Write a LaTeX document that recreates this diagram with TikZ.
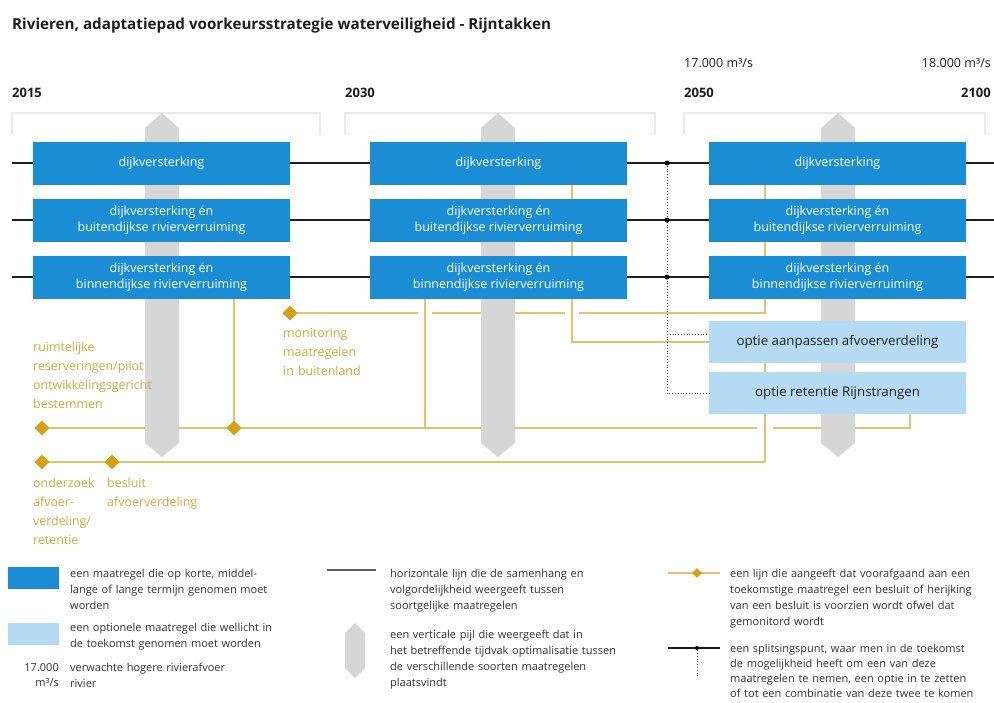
\documentclass[tikz,border=0pt]{standalone}
\usepackage{fontspec}
\setmainfont{Open Sans}
\usetikzlibrary{shapes.geometric,calc}
\definecolor{mblue}{RGB}{27,141,212}
\definecolor{oblue}{RGB}{180,219,243}
\definecolor{gold}{RGB}{214,160,20}
\definecolor{goldtext}{RGB}{214,168,58}
\definecolor{goldline}{RGB}{228,194,110}
\definecolor{pgray}{RGB}{214,214,214}
\definecolor{bgray}{RGB}{234,234,234}
\definecolor{inkdark}{RGB}{30,30,30}
\definecolor{legink}{RGB}{50,50,50}

\begin{document}
\begin{tikzpicture}[x=1pt,y=-1pt,
  mbox/.style={fill=mblue,text=white,minimum width=257pt,minimum height=43pt,
    inner sep=0pt,align=center,font=\fontsize{12.5}{16}\selectfont},
  obox/.style={fill=oblue,text=inkdark,minimum width=257pt,minimum height=42pt,
    inner sep=0pt,align=center,font=\fontsize{13.3}{16}\selectfont},
  yearlbl/.style={inner sep=0pt,font=\fontsize{13}{15}\selectfont\bfseries,text=inkdark},
  flowlbl/.style={inner sep=0pt,font=\fontsize{12.5}{15}\selectfont,text=inkdark},
  bracket/.style={draw=bgray,line width=1.3pt},
  hline/.style={draw=inkdark,line width=1.1pt},
  yline/.style={draw=goldline,line width=1.2pt},
  ygap/.style={draw=white,line width=5pt},
  splitdot/.style={circle,fill=black,inner sep=0pt,minimum size=5pt},
  splitline/.style={draw=black!75,line width=0.8pt,dotted},
  ydiamond/.style={diamond,fill=gold,inner sep=0pt,minimum width=15pt,minimum height=15pt},
  ytext/.style={anchor=base west,inner sep=0pt,text width=170pt,align=left,
    text=goldtext,font=\fontsize{12.4}{19}\selectfont},
  legtext/.style={anchor=base west,inner sep=0pt,text width=262pt,align=left,
    text=legink,font=\fontsize{11}{16}\selectfont},
  optarrow/.pic={\fill[pgray] (-17,15) -- (0,0) -- (17,15) -- (17,330) -- (0,344) -- (-17,330) -- cycle;}
]
\useasboundingbox[fill=white] (0,0) rectangle (994,702);

% heading, years and discharges
\node[anchor=base west,inner sep=0pt,text=inkdark,
  font=\fontsize{15.2}{18}\selectfont\bfseries] (title) at (12,29)
  {Rivieren, adaptatiepad voorkeursstrategie waterveiligheid - Rijntakken};
\node[yearlbl,anchor=base west] (y2015) at (12,97) {2015};
\node[yearlbl,anchor=base west] (y2030) at (345,97) {2030};
\node[yearlbl,anchor=base west] (y2050) at (684,97) {2050};
\node[yearlbl,anchor=base east] (y2100) at (991,97) {2100};
\node[flowlbl,anchor=base west] (q17) at (684,67) {17.000 m³/s};
\node[flowlbl,anchor=base east] (q18) at (991,67) {18.000 m³/s};

% period brackets
\draw[bracket] (12,135) |- (320,113) -- (320,135);
\draw[bracket] (345,135) |- (655,113) -- (655,135);
\draw[bracket] (684,135) |- (985,113) -- (985,135);

% horizontal lines through similar measures
\foreach \yy/\n in {163/1,220/2,277/3}{
  \coordinate (h\n s) at (12,\yy);
  \coordinate (h\n e) at (994,\yy);
  \draw[hline] (h\n s) -- (h\n e);
}

% junctions of the decision lines
\coordinate (cA) at (765,313);
\coordinate (cB) at (910,428);
\coordinate (cC) at (765,462);
\coordinate (cT) at (425,428);
\coordinate (cE) at (572,342);
\coordinate (dMonC) at (290,313);
\coordinate (dResC) at (42,428);
\coordinate (dJC) at (234,428);
\coordinate (dOndC) at (42,462);
\coordinate (dBesC) at (112,462);

% decision / monitoring lines (horizontals first)
\draw[yline] (dMonC) -- (cA) -- (765,185);
\draw[yline] (dResC) -- (cB) -- (910,414);
\draw[yline] (dOndC) -- (cC);
% bridges where lines cross without joining
\draw[ygap] ($(cT |- cA)+(-7,0)$) -- ($(cT |- cA)+(7,0)$);
\draw[ygap] ($(cE |- cA)+(-7,0)$) -- ($(cE |- cA)+(7,0)$);
\draw[ygap] ($(cC |- cB)+(-8,0)$) -- ($(cC |- cB)+(8,0)$);
% verticals
\draw[yline] (dJC) -- (234,298);
\draw[yline] (cT) -- (425,298);
\draw[yline] (572,185) -- (cE) -- (709,342);
\draw[yline] (cC) -- (765,363);

% optimisation arrows
\pic at (162,113) {optarrow};
\pic at (498,113) {optarrow};
\pic at (838,113) {optarrow};

% measures
\foreach \cx/\p in {161.5/1,498.5/2,837.5/3}{
  \node[mbox] (b\p1) at (\cx,163.5) {dijkversterking};
  \node[mbox] (b\p2) at (\cx,220.5) {dijkversterking én\\buitendijkse rivierverruiming};
  \node[mbox] (b\p3) at (\cx,277.5) {dijkversterking én\\binnendijkse rivierverruiming};
}
\node[obox] (o1) at (837.5,342) {optie aanpassen afvoerverdeling};
\node[obox] (o2) at (837.5,393) {optie retentie Rijnstrangen};

% splitting point
\node[splitdot] (s1) at (667,163) {};
\node[splitdot] (s2) at (667,220) {};
\node[splitdot] (s3) at (667,277) {};
\coordinate (sk) at (667,393);
\draw[splitline] (s1) -- (sk) -- (o2.west);
\draw[splitline] (667,334) -- (o1.west |- 0,334);

% decision diamonds and labels
\node[ydiamond] (dMon) at (dMonC) {};
\node[ydiamond] (dRes) at (dResC) {};
\node[ydiamond] (dJ) at (dJC) {};
\node[ydiamond] (dOnd) at (dOndC) {};
\node[ydiamond] (dBes) at (dBesC) {};
\node[ytext] (tMon) at (283,337) {monitoring\\maatregelen\\in buitenland};
\node[ytext] (tRes) at (33,351) {ruimtelijke\\reserveringen/pilot\\ontwikkelingsgericht\\bestemmen};
\node[ytext,text width=70pt] (tOnd) at (33,487) {onderzoek\\afvoer-\\verdeling/\\retentie};
\node[ytext] (tBes) at (107,487) {besluit\\afvoerverdeling};

% legend
\fill[mblue] (8,567) rectangle (59,589);
\node[legtext] (l1) at (70,577) {een maatregel die op korte, middel-\\lange of lange termijn genomen moet\\worden};
\fill[oblue] (8,623) rectangle (59,645);
\node[legtext] (l2) at (70,631) {een optionele maatregel die wellicht in\\de toekomst genomen moet worden};
\node[legtext,anchor=base east,text width=,align=right] (l3a) at (59,671) {17.000};
\node[legtext,anchor=base east,text width=,align=right] (l3b) at (59,686) {m³/s};
\node[legtext] (l3) at (70,671) {verwachte hogere rivierafvoer\\rivier};

\coordinate (g1) at (327,570);
\coordinate (g2) at (376,570);
\draw[draw=black!65,line width=1.4pt] (g1) -- (g2);
\node[legtext] (l4) at (390,577) {horizontale lijn die de samenhang en\\volgordelijkheid weergeeft tussen\\soortgelijke maatregelen};
\fill[pgray] (345,633) -- (355,623) -- (365,633) -- (365,668) -- (355,678) -- (345,668) -- cycle;
\node[legtext] (l5) at (390,638) {een verticale pijl die weergeeft dat in\\het betreffende tijdvak optimalisatie tussen\\de verschillende soorten maatregelen\\plaatsvindt};

\coordinate (k1) at (668,573);
\coordinate (k2) at (720,573);
\draw[yline] (k1) -- (k2);
\node[ydiamond,minimum width=10pt,minimum height=10pt] (kd) at (697,573) {};
\node[legtext] (l6) at (730,577) {een lijn die aangeeft dat voorafgaand aan een\\toekomstige maatregel een besluit of herijking\\van een besluit is voorzien wordt ofwel dat\\gemonitord wordt};

\coordinate (m1) at (668,648);
\coordinate (m2) at (720,648);
\draw[hline] (m1) -- (m2);
\node[splitdot,minimum size=4pt] (md) at (697,648) {};
\coordinate (m3) at (697,677);
\draw[splitline] (md) -- (m3);
\node[legtext,font=\fontsize{11}{15.3}\selectfont] (l7) at (730,652) {een splitsingspunt, waar men in de toekomst\\de mogelijkheid heeft om een van deze\\maatregelen te nemen, een optie in te zetten\\of tot een combinatie van deze twee te komen};
\end{tikzpicture}
\end{document}
